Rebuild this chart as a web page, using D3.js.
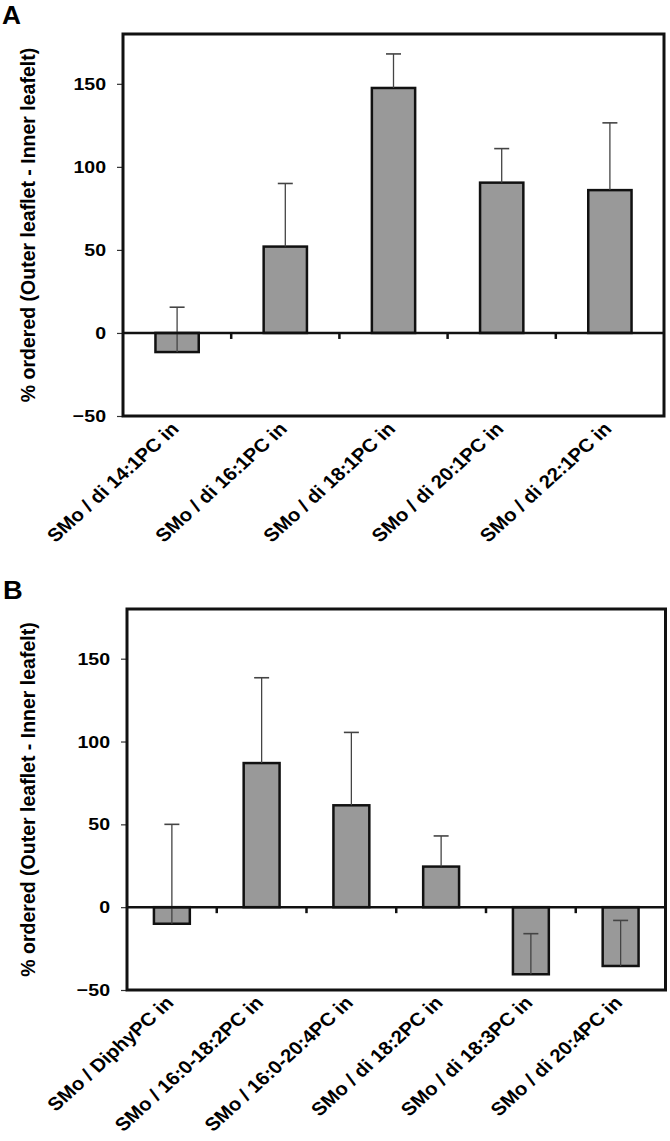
<!DOCTYPE html>
<html>
<head>
<meta charset="utf-8">
<script src="https://cdn.jsdelivr.net/npm/d3@7"></script>
<style>
  html, body { margin: 0; padding: 0; background: #fff; }
  svg { display: block; }
  text { font-family: "Liberation Sans", Arial, sans-serif; font-weight: bold; fill: #000; }
</style>
</head>
<body>
<svg id="chart" width="670" height="1141"></svg>
<script>
// ---- Data ----
const categoriesA = ["SMo / di 14:1PC in", "SMo / di 16:1PC in", "SMo / di 18:1PC in", "SMo / di 20:1PC in", "SMo / di 22:1PC in"];
const valuesA = [-11.5, 52, 147.5, 90.5, 86];
const errorsA = [27, 38, 20.5, 20.5, 40.5];

const categoriesB = ["SMo / DiphyPC in", "SMo / 16:0-18:2PC in", "SMo / 16:0-20:4PC in", "SMo / di 18:2PC in", "SMo / di 18:3PC in", "SMo / di 20:4PC in"];
const valuesB = [-10, 87, 61.5, 24.5, -40.5, -35.5];
const errorsB = [60, 51.5, 44, 18.5, 24.5, 27.5];

const yTicks = [-50, 0, 50, 100, 150];
const yDomain = [-50, 180];
const yTitle = "% ordered (Outer leaflet - Inner leafelt)";

const svg = d3.select("#chart");

function panel(opts) {
  const { letter, letterX, letterY, letterSize, cats, vals, errs, left, right, top, bottom } = opts;
  const g = svg.append("g");

  const x = d3.scaleBand().domain(cats).range([left, right]).paddingInner(0.6).paddingOuter(0.3);
  const y = d3.scaleLinear().domain(yDomain).range([bottom, top]);

  // panel letter
  g.append("text")
    .attr("transform", `translate(${letterX},${letterY}) scale(1.05,1)`)
    .attr("font-size", letterSize).text(letter);

  // y axis tick marks (via d3 axis, labels drawn separately)
  const ax = g.append("g").attr("transform", `translate(${left},0)`)
    .call(d3.axisLeft(y).tickValues(yTicks).tickSize(6).tickFormat(""));
  ax.select(".domain").remove();
  ax.selectAll(".tick line").attr("stroke", "#333").attr("stroke-width", 1.2);

  // y tick labels
  g.selectAll("text.yl").data(yTicks).join("text")
    .attr("class", "yl")
    .attr("text-anchor", "end")
    .attr("dy", "0.36em")
    .attr("font-size", 17)
    .attr("transform", d => `translate(${left - 17},${y(d)}) scale(1.15,1)`)
    .text(d3.format("d"));

  // y title
  g.append("text")
    .attr("transform", `translate(34.5,${(top + bottom) / 2}) rotate(-90)`)
    .attr("text-anchor", "middle")
    .attr("font-size", 19.5)
    .text(yTitle);

  const y0 = y(0);

  // bars
  const data = cats.map((c, i) => ({ c, v: vals[i], e: errs[i] }));
  g.selectAll("rect.bar").data(data).join("rect")
    .attr("class", "bar")
    .attr("x", d => x(d.c))
    .attr("width", x.bandwidth())
    .attr("y", d => Math.min(y(d.v), y0))
    .attr("height", d => Math.abs(y(d.v) - y0))
    .attr("fill", "#999999")
    .attr("stroke", "#111")
    .attr("stroke-width", 2.5);

  // error bars (plus direction)
  const eb = g.selectAll("g.err").data(data).join("g").attr("class", "err");
  eb.append("line")
    .attr("x1", d => x(d.c) + x.bandwidth() / 2)
    .attr("x2", d => x(d.c) + x.bandwidth() / 2)
    .attr("y1", d => y(d.v))
    .attr("y2", d => y(d.v + d.e))
    .attr("stroke", "#444").attr("stroke-width", 1.3);
  eb.append("line")
    .attr("x1", d => x(d.c) + x.bandwidth() / 2 - 7.5)
    .attr("x2", d => x(d.c) + x.bandwidth() / 2 + 7.5)
    .attr("y1", d => y(d.v + d.e))
    .attr("y2", d => y(d.v + d.e))
    .attr("stroke", "#444").attr("stroke-width", 1.6);

  // zero line
  g.append("line").attr("x1", left).attr("x2", right).attr("y1", y0).attr("y2", y0)
    .attr("stroke", "#111").attr("stroke-width", 2.5);

  // category ticks between categories
  const step = x.step();
  const bounds = d3.range(1, cats.length).map(i => x.range()[0] + i * step);
  g.selectAll("line.ctick").data(bounds).join("line")
    .attr("class", "ctick")
    .attr("x1", d => d).attr("x2", d => d)
    .attr("y1", y0).attr("y2", y0 + 6)
    .attr("stroke", "#111").attr("stroke-width", 2.5);

  // frame
  g.append("rect").attr("x", left).attr("y", top)
    .attr("width", right - left).attr("height", bottom - top)
    .attr("fill", "none").attr("stroke", "#111").attr("stroke-width", 3);

  // x labels
  g.selectAll("text.xl").data(cats).join("text")
    .attr("class", "xl")
    .attr("text-anchor", "end")
    .attr("font-size", 18.5)
    .attr("transform", d => `translate(${x(d) + x.bandwidth() / 2 + 3},${bottom + 14}) scale(1.1,1) rotate(-45)`)
    .text(d => d);
}

panel({ letter: "A", letterX: 2, letterY: 24, letterSize: 25, cats: categoriesA, vals: valuesA, errs: errorsA,
  left: 123, right: 664, top: 34, bottom: 416 });
panel({ letter: "B", letterX: 3, letterY: 599, letterSize: 26, cats: categoriesB, vals: valuesB, errs: errorsB,
  left: 127, right: 665.5, top: 609, bottom: 990 });
</script>
</body>
</html>
